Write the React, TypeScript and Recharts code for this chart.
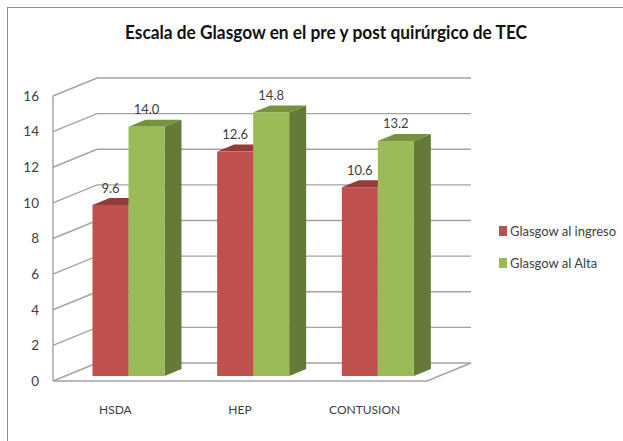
import React from 'react';
import { BarChart, Bar, XAxis, YAxis, CartesianGrid, Legend, LabelList } from 'recharts';

const categories = ['HSDA', 'HEP', 'CONTUSION'];
const ingreso = [9.6, 12.6, 10.6];
const alta = [14.0, 14.8, 13.2];
const yTicks = [0, 2, 4, 6, 8, 10, 12, 14, 16];

const data = categories.map((name, i) => ({ name, ingreso: ingreso[i], alta: alta[i] }));

const FONT = 'Lato, sans-serif';
const TEXT = '#404040';
const LINE = '#a3a3a3';

// depth of the fake 3D box and how far the bars sit inside it
const WALL_X = 44;
const WALL_Y = 18;
const BAR_SHIFT_X = 13.5;
const BAR_SHIFT_Y = 5;
const BAR_DX = 17;
const BAR_DY = 7;

const WallLine = ({ x1, x2, y1, index }: any) => (
  <g key={index} fill="none" stroke={LINE} strokeWidth={1.4}>
    <polyline points={`${x1},${y1} ${x1 + WALL_X},${y1 - WALL_Y} ${x2 + WALL_X},${y1 - WALL_Y}`} />
    {index === 0 && (
      <polyline points={`${x1},${y1} ${x2},${y1} ${x2 + WALL_X},${y1 - WALL_Y}`} />
    )}
  </g>
);

const box3d = (front: string, top: string, side: string) => (props: any) => {
  const { x, y, width, height } = props;
  const l = x + BAR_SHIFT_X;
  const r = l + width;
  const t = y - BAR_SHIFT_Y;
  const b = t + height;
  return (
    <g>
      <polygon points={`${r},${t} ${r + BAR_DX},${t - BAR_DY} ${r + BAR_DX},${b - BAR_DY} ${r},${b}`} fill={side} />
      <polygon points={`${l},${t} ${l + BAR_DX},${t - BAR_DY} ${r + BAR_DX},${t - BAR_DY} ${r},${t}`} fill={top} />
      <rect x={l} y={t} width={width} height={height} fill={front} />
    </g>
  );
};

const BarLabel = ({ x, y, width, value }: any) => (
  <text
    x={x + BAR_SHIFT_X + width / 2}
    y={y - BAR_SHIFT_Y - 12.5}
    textAnchor="middle"
    fontFamily={FONT}
    fontSize={13}
    fill={TEXT}
  >
    {Number(value).toFixed(1)}
  </text>
);

const LegendBox = ({ payload }: any) => (
  <div style={{ fontFamily: FONT, fontSize: 13, color: TEXT }}>
    {(payload || []).map((p: any) => (
      <div key={p.value} style={{ display: 'flex', alignItems: 'center', height: 32 }}>
        <span style={{ width: 8, height: 10, marginRight: 3, background: p.color }} />
        {p.value}
      </div>
    ))}
  </div>
);

export default function App() {
  return (
    <div style={{ position: 'fixed', left: 0, top: 0, width: 623, height: 441, background: '#fff' }}>
      <div
        style={{
          position: 'absolute',
          left: 7,
          top: 7,
          right: 0,
          bottom: 0,
          borderLeft: '1.5px solid #8c8c8c',
          borderTop: '1.5px solid #8c8c8c',
        }}
      />
      <BarChart
        width={623}
        height={441}
        data={data}
        barSize={36}
        barGap={0}
        margin={{ top: 96, right: 196, bottom: 0, left: 0 }}
        style={{ position: 'absolute', left: 0, top: 0 }}
      >
        <text
          x={326}
          y={39}
          textAnchor="middle"
          fontFamily={FONT}
          fontSize={18}
          fontWeight={700}
          fill="#111"
          textLength={402}
          lengthAdjust="spacingAndGlyphs"
        >
          Escala de Glasgow en el pre y post quirúrgico de TEC
        </text>
        <CartesianGrid vertical={false} horizontal={(p: any) => <WallLine {...p} />} />
        <XAxis
          dataKey="name"
          height={60}
          tickLine={false}
          axisLine={false}
          tickMargin={18}
          interval={0}
          tick={{ fontFamily: FONT, fontSize: 12, fill: TEXT }}
        />
        <YAxis
          width={53}
          domain={[0, 16]}
          ticks={yTicks}
          tickSize={0}
          tickMargin={14}
          interval={0}
          axisLine={{ stroke: LINE, strokeWidth: 1.4 }}
          tick={{ fontFamily: FONT, fontSize: 13.5, fill: TEXT }}
        />
        <Legend
          layout="horizontal"
          align="center"
          verticalAlign="middle"
          itemSorter={null}
          content={<LegendBox />}
          wrapperStyle={{ left: 499, top: 215, width: 124 }}
        />
        <Bar
          dataKey="ingreso"
          name="Glasgow al ingreso"
          fill="#c0504d"
          isAnimationActive={false}
          shape={box3d('#c0504d', '#943c39', '#7f3230')}
        >
          <LabelList dataKey="ingreso" content={<BarLabel />} />
        </Bar>
        <Bar
          dataKey="alta"
          name="Glasgow al Alta"
          fill="#9bbb59"
          isAnimationActive={false}
          shape={box3d('#9bbb59', '#76923c', '#657a38')}
        >
          <LabelList dataKey="alta" content={<BarLabel />} />
        </Bar>
      </BarChart>
    </div>
  );
}
